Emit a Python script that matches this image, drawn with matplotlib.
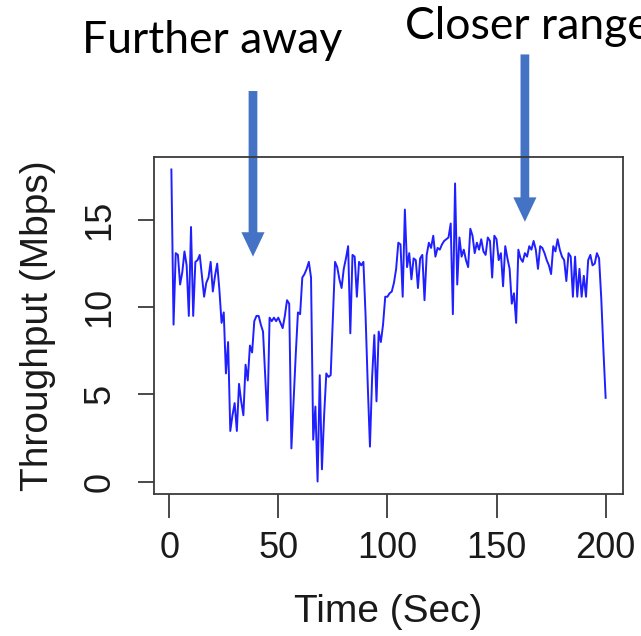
import matplotlib
matplotlib.use("Agg")
import matplotlib.pyplot as plt

# ---- data ----
time_sec = list(range(1, 201))
throughput = [
    17.9, 9.0, 13.1, 13.0, 11.3, 12.0, 13.2, 12.4, 9.5, 14.6,      # 1-10
    9.5, 12.6, 12.7, 13.0, 11.8, 10.6, 11.4, 11.7, 12.6, 10.9,     # 11-20
    11.8, 12.5, 11.0, 9.1, 9.7, 6.2, 8.0, 2.9, 3.8, 4.5,           # 21-30
    2.9, 5.6, 4.6, 3.8, 6.7, 5.8, 7.8, 7.4, 9.2, 9.5,              # 31-40
    9.5, 9.0, 8.6, 6.0, 3.5, 9.4, 9.2, 9.4, 9.2, 9.4,              # 41-50
    9.1, 8.8, 9.5, 10.4, 10.2, 1.9, 4.6, 7.3, 9.7, 9.6,            # 51-60
    11.7, 11.9, 12.2, 12.6, 11.7, 2.4, 4.3, 0.0, 6.1, 0.7,         # 61-70
    3.8, 6.2, 6.0, 6.1, 9.4, 12.6, 12.3, 11.6, 11.1, 12.2,         # 71-80
    12.8, 13.5, 8.5, 13.0, 12.9, 10.6, 12.6, 12.4, 12.6, 9.5,      # 81-90
    5.5, 2.0, 6.0, 8.4, 4.6, 8.6, 8.0, 9.0, 10.6, 10.6,            # 91-100
    10.8, 10.9, 11.4, 12.2, 13.7, 13.6, 10.6, 15.6, 12.3, 13.1,    # 101-110
    11.6, 12.8, 12.7, 11.1, 12.8, 13.0, 10.4, 13.0, 13.7, 13.4,    # 111-120
    14.1, 12.9, 13.4, 13.3, 13.6, 13.8, 13.9, 14.0, 14.8, 9.6,     # 121-130
    17.1, 11.3, 14.0, 12.9, 13.3, 12.7, 12.3, 14.5, 14.1, 13.1,    # 131-140
    13.7, 13.3, 13.9, 13.2, 13.0, 14.0, 13.8, 11.7, 14.1, 13.9,    # 141-150
    12.7, 13.1, 11.2, 13.5, 12.8, 12.2, 10.2, 10.8, 9.1, 13.3,     # 151-160
    12.8, 12.6, 13.1, 12.9, 13.5, 13.3, 13.8, 13.3, 12.2, 13.5,    # 161-170
    13.4, 13.1, 12.7, 12.4, 11.9, 13.5, 13.2, 13.9, 13.3, 12.9,    # 171-180
    12.7, 11.5, 13.1, 12.9, 10.6, 12.9, 10.6, 12.2, 10.6, 11.8,    # 181-190
    10.6, 12.7, 13.0, 12.4, 12.5, 13.1, 12.8, 10.5, 7.5, 4.8,      # 191-200
]
x_ticks = [0, 50, 100, 150, 200]
y_ticks = [0, 5, 10, 15]
x_label = "Time (Sec)"
y_label = "Throughput (Mbps)"
notes = ["Further away", "Closer range"]

W, H = 641, 636
fig = plt.figure(figsize=(W / 100, H / 100), dpi=100)
fig.patch.set_facecolor("white")

left, right, top, bottom = 154, 623, 157, 494
ax = fig.add_axes([left / W, 1 - bottom / H, (right - left) / W, (bottom - top) / H])

ax.plot(time_sec, throughput, color="#1f1fff", lw=1.4)

# R-style 4% padding
xr = max(time_sec) - min(time_sec)
yr = max(throughput) - min(throughput)
ax.set_xlim(min(time_sec) - 0.04 * xr, max(time_sec) + 0.04 * xr)
ax.set_ylim(min(throughput) - 0.04 * yr, max(throughput) + 0.04 * yr)

ax.set_xticks(x_ticks)
ax.set_xticklabels([str(v) for v in x_ticks])
ax.set_yticks(y_ticks)
ax.set_yticklabels([str(v) for v in y_ticks], rotation=90, va="center")

for s in ax.spines.values():
    s.set_color("#3a3a3a")
    s.set_linewidth(1.3)

font = "Liberation Sans"
ax.tick_params(axis="x", length=17, width=1.3, color="#3a3a3a", pad=10,
               labelsize=26, labelcolor="#1a1a1a")
ax.tick_params(axis="y", length=11.5, width=1.3, color="#3a3a3a", pad=15,
               labelsize=26, labelcolor="#1a1a1a")
for lab in ax.get_xticklabels() + ax.get_yticklabels():
    lab.set_family(font)

ax.set_xlabel(x_label, fontsize=28, family=font, color="#1a1a1a", labelpad=20)
ax.set_ylabel(y_label, fontsize=28, family=font, color="#1a1a1a", labelpad=19)

# arrows (data coords, unclipped)
arrow_col = "#4472C4"
ax.arrow(38.4, 22.4, 0, 12.9 - 22.4, width=4.0, head_width=10.6, head_length=1.4,
         length_includes_head=True, color=arrow_col, clip_on=False, lw=0)
ax.arrow(163.0, 24.5, 0, 14.9 - 24.5, width=4.0, head_width=10.6, head_length=1.4,
         length_includes_head=True, color=arrow_col, clip_on=False, lw=0)

fig.text(212 / W, 1 - 53 / H, notes[0], ha="center", va="baseline",
         fontsize=32, family="Lato", color="black")
fig.text(405 / W, 1 - 39 / H, notes[1], ha="left", va="baseline",
         fontsize=32, family="Lato", color="black")

fig.savefig("out.png", dpi=100, facecolor="white")
